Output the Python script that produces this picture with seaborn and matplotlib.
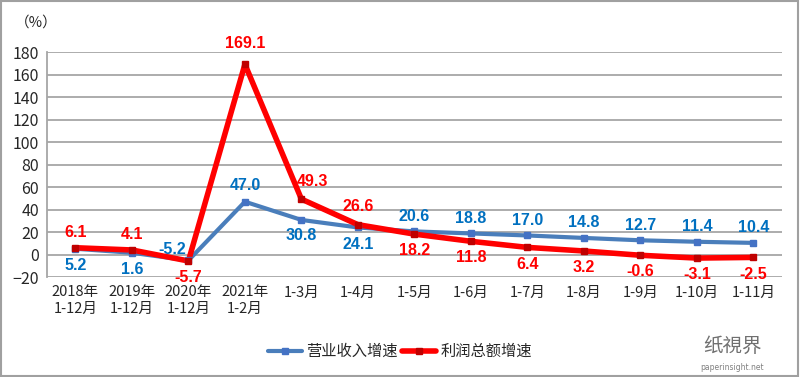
import numpy as np
import pandas as pd
import seaborn as sns
import matplotlib.pyplot as plt

# 类别与数据
categories = ["2018年\n1-12月", "2019年\n1-12月", "2020年\n1-12月", "2021年\n1-2月",
              "1-3月", "1-4月", "1-5月", "1-6月", "1-7月", "1-8月", "1-9月", "1-10月", "1-11月"]
revenue = [5.2, 1.6, -5.2, 47.0, 30.8, 24.1, 20.6, 18.8, 17.0, 14.8, 12.7, 11.4, 10.4]
profit = [6.1, 4.1, -5.7, 169.1, 49.3, 26.6, 18.2, 11.8, 6.4, 3.2, -0.6, -3.1, -2.5]
yticks = [-20, 0, 20, 40, 60, 80, 100, 120, 140, 160, 180]

# 标签偏移 (点)
rev_off = [(0, -12), (0, -12), (-12, 8), (0, 12), (0, -11), (0, -12),
           (0, 11), (0, 11), (0, 11), (0, 11), (0, 11), (0, 11), (0, 11)]
pro_off = [(0, 11), (0, 11), (0, -12), (0, 15), (8, 13), (0, 13),
           (0, -12), (0, -12), (0, -12), (0, -12), (0, -12), (0, -12), (0, -12)]

sns.set_theme(style="white")
plt.rcParams['font.family'] = ['Noto Sans CJK SC', 'DejaVu Sans']

df = pd.DataFrame({"x": np.arange(len(categories)), "营业收入增速": revenue, "利润总额增速": profit})
long = df.melt(id_vars="x", var_name="series", value_name="value")

fig = plt.figure(figsize=(8, 3.77), dpi=100)
ax = fig.add_axes([0.059, 0.265, 0.918, 0.597])

blue_line, red_line = "#4a7ebb", "#ff0000"
blue_txt, red_txt = "#0070c0", "#ff0000"

sns.lineplot(data=long, x="x", y="value", hue="series",
             palette={"营业收入增速": blue_line, "利润总额增速": red_line},
             ax=ax, legend=False, sort=False)
ax.lines[0].set_linewidth(3)
ax.lines[1].set_linewidth(4)
ax.lines[0].set_zorder(3)
ax.lines[1].set_zorder(4)
ax.plot(df["x"], df["营业收入增速"], ls="none", marker="s", ms=5, color="#4472c4", zorder=5)
ax.plot(df["x"], df["利润总额增速"], ls="none", marker="s", ms=5, color="#c00000", zorder=6)

for i in range(len(categories)):
    ax.annotate(f"{revenue[i]:.1f}", (i, revenue[i]), xytext=rev_off[i],
                textcoords="offset points", ha="center", va="center",
                color=blue_txt, fontsize=11.5, fontweight="bold", family=['Liberation Sans'])
    ax.annotate(f"{profit[i]:.1f}", (i, profit[i]), xytext=pro_off[i],
                textcoords="offset points", ha="center", va="center",
                color=red_txt, fontsize=11.5, fontweight="bold", family=['Liberation Sans'])

ax.set_xlim(-0.5, len(categories) - 0.5)
ax.set_ylim(-20, 180)
ax.set_yticks(yticks)
ax.set_xticks(df["x"])
ax.set_xticklabels(categories, fontsize=10.5, linespacing=1.2)
ax.tick_params(axis="y", labelsize=11.5, length=0, pad=6)
ax.tick_params(axis="x", length=0, pad=6)
ax.set_xlabel("")
ax.set_ylabel("")
ax.yaxis.grid(True, color="#a6a6a6", lw=1.3)
for s in ["top", "right", "bottom"]:
    ax.spines[s].set_visible(False)
ax.spines["left"].set_color("#a6a6a6")
ax.spines["left"].set_linewidth(1.3)

fig.text(0.018, 0.94, "（%）", fontsize=10.5, ha="left", va="center")

handles = [plt.Line2D([], [], color=blue_line, lw=3, marker="s", ms=5, mfc="#4472c4", mec="#4472c4"),
           plt.Line2D([], [], color=red_line, lw=4, marker="s", ms=5, mfc="#c00000", mec="#c00000")]
fig.legend(handles, ["营业收入增速", "利润总额增速"], loc="center", bbox_to_anchor=(0.5, 0.067),
           ncol=2, frameon=False, fontsize=11, handlelength=2.2, columnspacing=0.3, handletextpad=0.3)

# 水印
fig.text(0.915, 0.08, "纸視界", fontsize=14, color="#707070", ha="center", va="center")
fig.text(0.915, 0.025, "paperinsight.net", fontsize=5.5, color="#808080", ha="center", va="center",
         family=['DejaVu Sans'])

fig.patches.append(plt.Rectangle((0.001, 0.002), 0.997, 0.995, transform=fig.transFigure,
                                 fill=False, edgecolor="#a0a0a0", lw=1.5))

fig.savefig("out.png", dpi=100)
